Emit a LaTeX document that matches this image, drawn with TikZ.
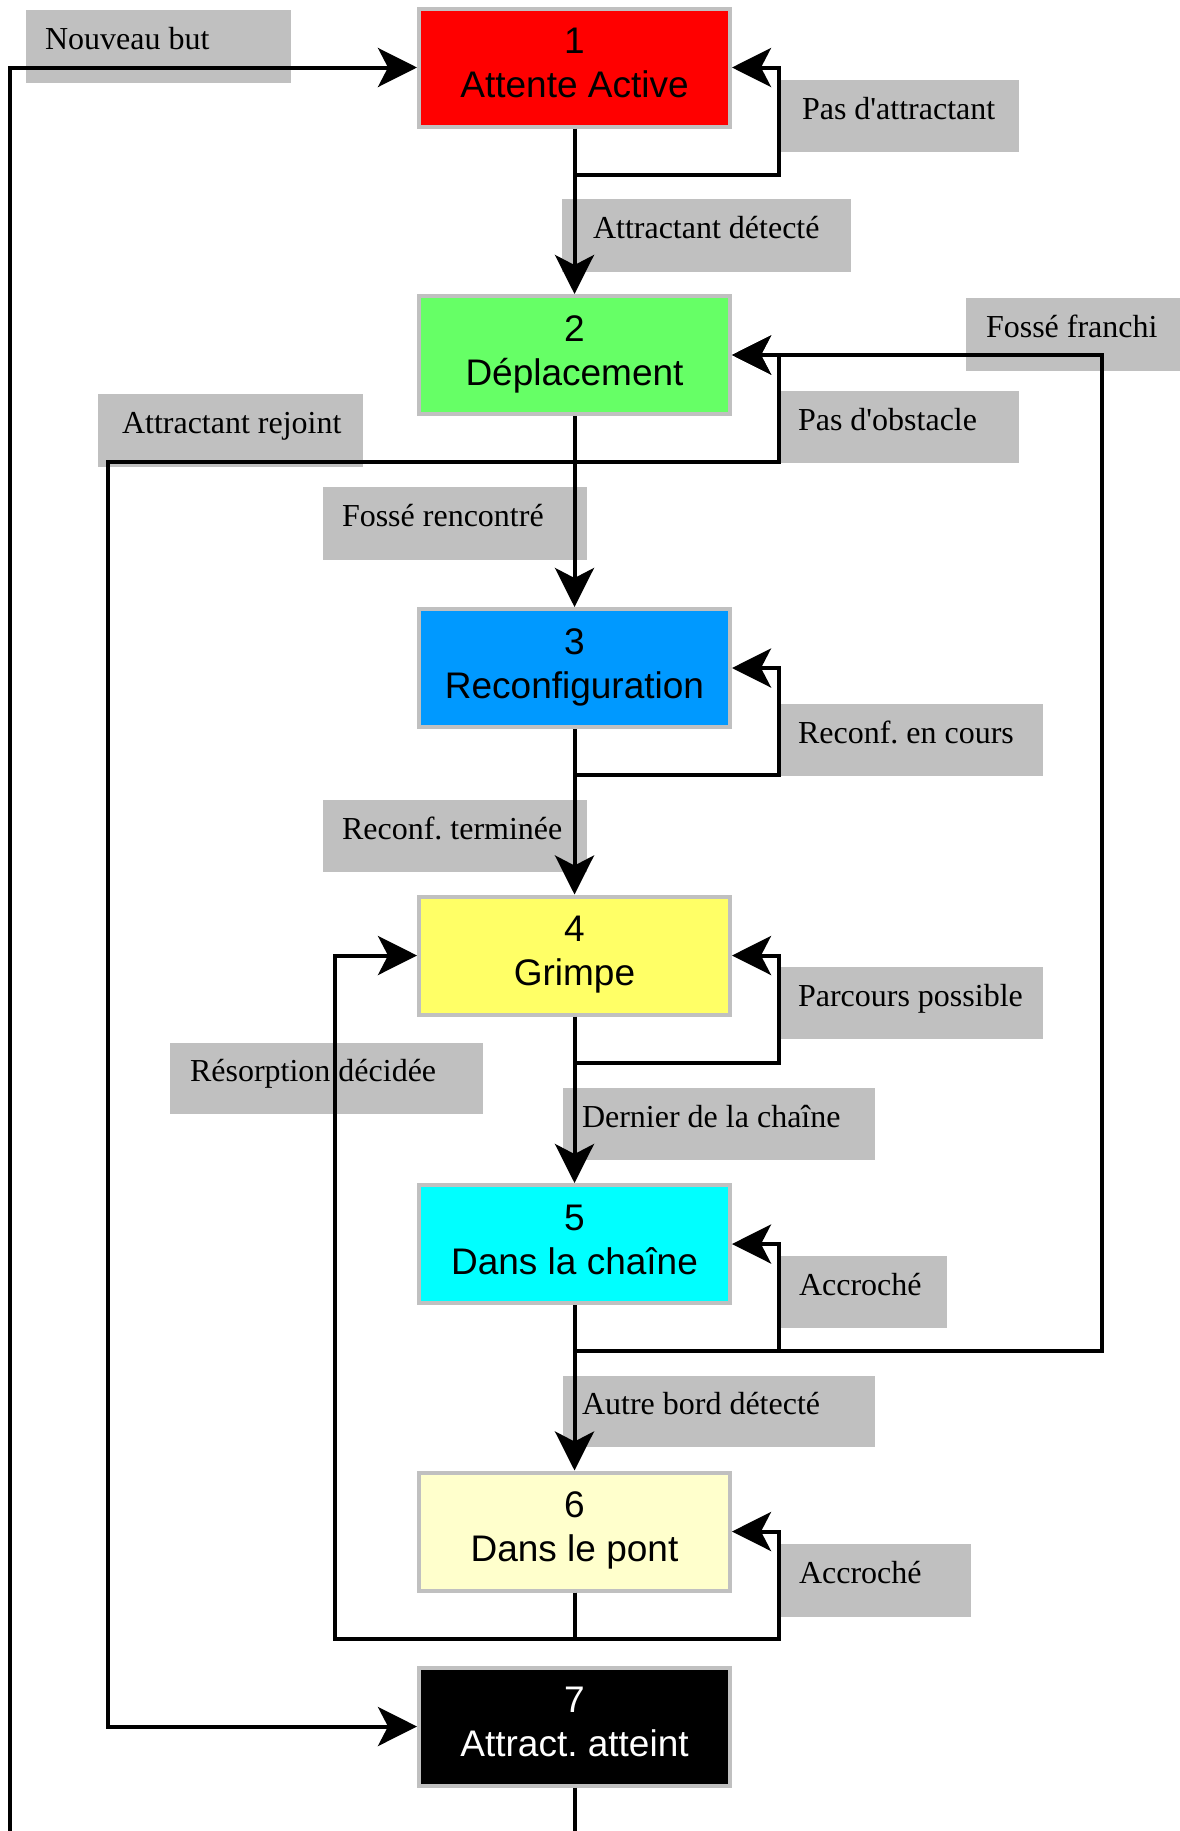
\documentclass[tikz,border=0pt]{standalone}
\usepackage{fontspec}
\setmainfont{Liberation Serif}
\newfontfamily\boxfont{Liberation Sans}
\usetikzlibrary{arrows.meta}
\frenchspacing
\definecolor{lgray}{HTML}{C0C0C0}
\definecolor{cgreen}{HTML}{66FF66}
\definecolor{cblue}{HTML}{0099FF}
\definecolor{cyel}{HTML}{FFFF66}
\definecolor{ccyan}{HTML}{00FFFF}
\definecolor{cpale}{HTML}{FFFFCC}
\begin{document}
\begin{tikzpicture}[x=1pt,y=-1pt,
  state/.style={draw=lgray, line width=4pt, minimum width=311pt, minimum height=118pt,
    inner sep=0pt, align=center, text height=70.5pt, text depth=10.5pt,
    font=\boxfont\fontsize{37}{44}\selectfont},
  lab/.style={fill=lgray, inner ysep=0pt, outer sep=0pt, anchor=north west,
    text height=22pt, text depth=16pt, font=\fontsize{32}{38}\selectfont},
  wire/.style={line width=4pt},
  arr/.style={wire, -{Stealth[length=39pt,width=39pt,inset=10pt]}}]
\useasboundingbox (0,0) rectangle (1180,1831);

% labels
\node[lab, minimum width=265pt, minimum height=73pt, inner xsep=19pt] (lnb) at (26,10) {\makebox[227pt][l]{Nouveau but}};
\node[lab, minimum width=239pt, minimum height=72pt, inner xsep=22pt] (lpa) at (780,80) {\makebox[195pt][l]{Pas d\textquotesingle attractant}};
\node[lab, minimum width=289pt, minimum height=73pt, inner xsep=31pt] (lad) at (562,199) {\makebox[227pt][l]{Attractant détecté}};
\node[lab, minimum width=214pt, minimum height=73pt, inner xsep=20pt] (lff) at (966,298) {\makebox[174pt][l]{Fossé franchi}};
\node[lab, minimum width=239pt, minimum height=72pt, inner xsep=18pt] (lpo) at (780,391) {\makebox[203pt][l]{Pas d\textquotesingle obstacle}};
\node[lab, minimum width=265pt, minimum height=73pt, inner xsep=24pt] (lar) at (98,394) {\makebox[217pt][l]{Attractant rejoint}};
\node[lab, minimum width=264pt, minimum height=73pt, inner xsep=19pt] (lfr) at (323,487) {\makebox[226pt][l]{Fossé rencontré}};
\node[lab, minimum width=263pt, minimum height=72pt, inner xsep=18pt] (lrc) at (780,704) {\makebox[227pt][l]{Reconf. en cours}};
\node[lab, minimum width=264pt, minimum height=72pt, inner xsep=19pt] (lrt) at (323,800) {\makebox[226pt][l]{Reconf. terminée}};
\node[lab, minimum width=263pt, minimum height=72pt, inner xsep=18pt] (lpp) at (780,967) {\makebox[227pt][l]{Parcours possible}};
\node[lab, minimum width=313pt, minimum height=71pt, inner xsep=20pt] (lrd) at (170,1043) {\makebox[273pt][l]{Résorption décidée}};
\node[lab, minimum width=312pt, minimum height=72pt, inner xsep=19pt] (ldc) at (563,1088) {\makebox[274pt][l]{Dernier de la chaîne}};
\node[lab, minimum width=167pt, minimum height=72pt, inner xsep=19pt] (lac1) at (780,1256) {\makebox[129pt][l]{Accroché}};
\node[lab, minimum width=312pt, minimum height=71pt, inner xsep=19pt] (lab) at (563,1376) {\makebox[274pt][l]{Autre bord détecté}};
\node[lab, minimum width=191pt, minimum height=73pt, inner xsep=19pt] (lac2) at (780,1544) {\makebox[153pt][l]{Accroché}};

% states
\node[state, fill=red] (s1) at (574.5,67.5) {1\\Attente Active};
\node[state, fill=cgreen] (s2) at (574.5,355) {2\\Déplacement};
\node[state, fill=cblue] (s3) at (574.5,668) {3\\Reconfiguration};
\node[state, fill=cyel] (s4) at (574.5,955.5) {4\\Grimpe};
\node[state, fill=ccyan] (s5) at (574.5,1244) {5\\Dans la chaîne};
\node[state, fill=cpale] (s6) at (574.5,1531.5) {6\\Dans le pont};
\node[state, fill=black, text=white] (s7) at (574.5,1726.5) {7\\Attract. atteint};

\coordinate (nbstart) at (10,1831);
\coordinate (bottom) at (574.5,1831);

% main flow
\draw[arr] (nbstart) |- (s1.west);
\draw[arr] (s1) -- (s2);
\draw[arr] (s2) -- (s3);
\draw[arr] (s3) -- (s4);
\draw[arr] (s4) -- (s5);
\draw[arr] (s5) -- (s6);
\draw[wire] (s7) -- (bottom);

% self loops
\draw[arr] ([yshift=-46pt]s1.south) -| ([xshift=47pt]s1.east) -- (s1.east);
\draw[arr] ([yshift=-46pt]s2.south) -| ([xshift=47pt]s2.east) -- (s2.east);
\draw[arr] ([yshift=-46pt]s3.south) -| ([xshift=47pt]s3.east) -- (s3.east);
\draw[arr] ([yshift=-46pt]s4.south) -| ([xshift=47pt]s4.east) -- (s4.east);
\draw[arr] ([yshift=-46pt]s5.south) -| ([xshift=47pt]s5.east) -- (s5.east);
\draw[arr] (s6.south) -- ([yshift=-46pt]s6.south) -| ([xshift=47pt]s6.east) -- (s6.east);

% long returns
\draw[arr] ([yshift=-46pt]s5.south) -| ([xshift=370pt]s2.east) -- (s2.east);
\draw[arr] ([yshift=-46pt]s2.south) -| ([xshift=-309pt]s7.west) -- (s7.west);
\draw[arr] (s6.south) -- ([yshift=-46pt]s6.south) -| ([xshift=-82pt]s4.west) -- (s4.west);
\end{tikzpicture}
\end{document}
